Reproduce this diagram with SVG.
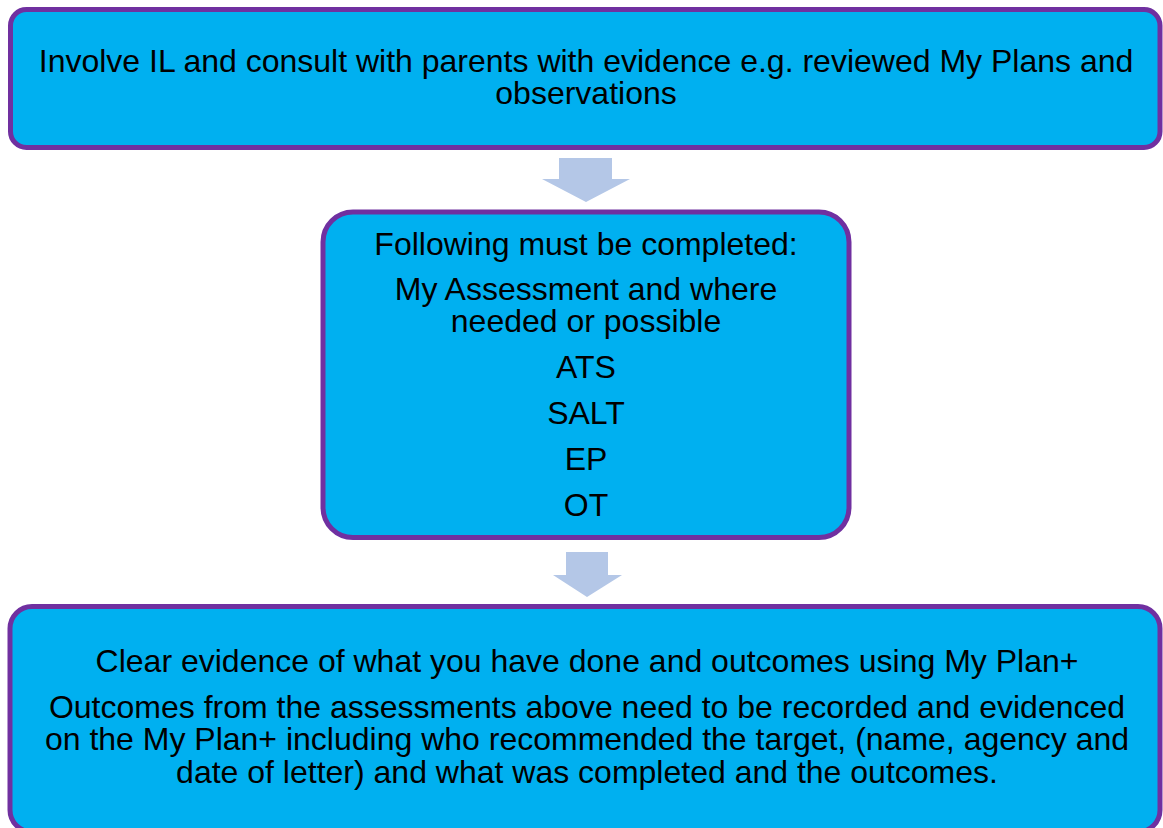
<svg xmlns="http://www.w3.org/2000/svg" width="1163" height="828" viewBox="0 0 1163 828">
<style>
.box{fill:#00B0F0;stroke:#7030A0;stroke-width:5}
.t{font-family:"Liberation Sans",Arial,sans-serif;font-size:32px;fill:#000;text-anchor:middle}
.arr{fill:#B4C7E7}
</style>
<rect width="1163" height="828" fill="#fff"/>
<g id="node1">
<rect class="box" x="10.5" y="9.5" width="1149.5" height="138" rx="16"/>
<text class="t" x="586" y="72">Involve IL and consult with parents with evidence e.g. reviewed My Plans and</text>
<text class="t" x="586" y="104">observations</text>
</g>
<g id="node2">
<rect class="box" x="323" y="212" width="526" height="325.5" rx="30"/>
<text class="t" x="586" y="255">Following must be completed:</text>
<text class="t" x="586" y="300">My Assessment and where</text>
<text class="t" x="586" y="332">needed or possible</text>
<text class="t" x="586" y="378">ATS</text>
<text class="t" x="586" y="424">SALT</text>
<text class="t" x="586" y="470">EP</text>
<text class="t" x="586" y="516">OT</text>
</g>
<g id="node3">
<rect class="box" x="10" y="606.5" width="1150" height="225.5" rx="22"/>
<text class="t" x="587" y="672">Clear evidence of what you have done and outcomes using My Plan+</text>
<text class="t" x="587" y="718">Outcomes from the assessments above need to be recorded and evidenced</text>
<text class="t" x="587" y="750">on the My Plan+ including who recommended the target, (name, agency and</text>
<text class="t" x="587" y="783">date of letter) and what was completed and the outcomes.</text>
</g>
<g id="connectors">
<polygon class="arr" points="559,158 612,158 612,179 630,179 586,202 542,179 559,179"/>
<polygon class="arr" points="566,552 608,552 608,575 622,575 587,597 553,575 566,575"/>
</g>
</svg>
